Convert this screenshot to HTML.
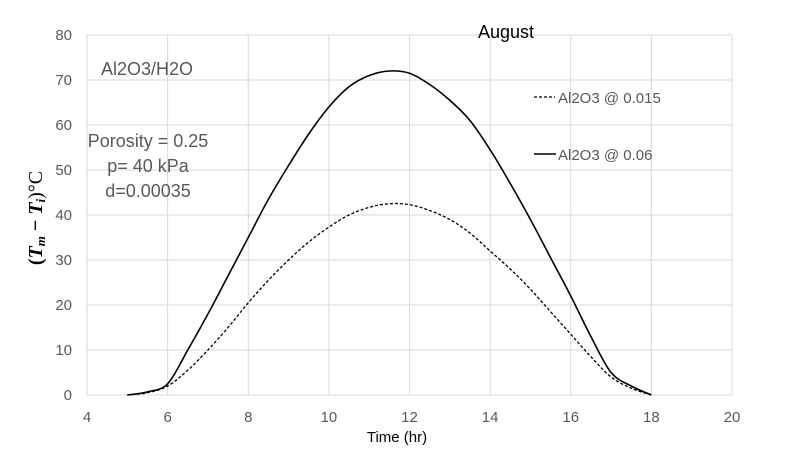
<!DOCTYPE html>
<html><head><meta charset="utf-8"><style>
body{margin:0;background:#fff;}
svg{display:block;font-family:"Liberation Sans",sans-serif;}
</style></head><body>
<svg width="795" height="458" viewBox="0 0 795 458" id="c"></svg>
<script>
const xTicks=[4,6,8,10,12,14,16,18,20];
const yTicks=[0,10,20,30,40,50,60,70,80];
const solidX=[5,5.5,6,6.5,7,7.5,8,8.5,9,9.5,10,10.5,11,11.5,12,12.5,13,13.5,14,14.5,15,15.5,16,16.5,17,17.5,18];
const solidY=[0,0.7,2.5,10,18,26.5,35,43.5,51,58,64,68.5,71,72,71.5,69,65.5,61,54.5,47,39,30.5,22,13,5,2,0];
const dashX=[5,5.5,6,6.5,7,7.5,8,8.5,9,9.5,10,10.5,11,11.5,12,12.5,13,13.5,14,14.5,15,15.5,16,16.5,17,17.5,18];
const dashY=[0,0.5,2,5.5,10,15,20.5,25.5,30,34,37.3,40,41.7,42.5,42.3,41,39,36,32,28,23.5,18.5,13.5,8.5,4,1.5,0];
const L=87,R=732,T=35,B=395;
const sx=v=>L+(v-4)/16*(R-L), sy=v=>B-v/80*(B-T);
const svg=document.getElementById('c');const NS='http://www.w3.org/2000/svg';
function mk(t,a,p){const e=document.createElementNS(NS,t);for(const k in a)e.setAttribute(k,a[k]);(p||svg).appendChild(e);return e;}
xTicks.forEach(v=>{const l=mk('line',{x1:sx(v),x2:sx(v),y1:T,y2:B,stroke:'#d9d9d9'});


const t=mk('text',{x:sx(v),y:B+27,'text-anchor':'middle','font-size':'15',fill:'#595959'});t.textContent=v;

});
yTicks.forEach(v=>{const l=mk('line',{x1:L,x2:R,y1:sy(v),y2:sy(v),stroke:'#d9d9d9'});


const t=mk('text',{x:L-15,y:sy(v)+5,'text-anchor':'end','font-size':'15',fill:'#595959'});t.textContent=v;

});
function path(xs,ys){const p=xs.map((x,i)=>[sx(x),sy(ys[i])]);let d='M'+p[0][0]+','+p[0][1];
for(let i=0;i<p.length-1;i++){const p0=p[Math.max(0,i-1)],p1=p[i],p2=p[i+1],p3=p[Math.min(p.length-1,i+2)];
d+=' C'+(p1[0]+(p2[0]-p0[0])/6)+','+(p1[1]+(p2[1]-p0[1])/6)+' '+(p2[0]-(p3[0]-p1[0])/6)+','+(p2[1]-(p3[1]-p1[1])/6)+' '+p2[0]+','+p2[1];}return d;}
const s=mk('path',{d:path(solidX,solidY),fill:'none',stroke:'#000','stroke-width':'1.6'});


const d=mk('path',{d:path(dashX,dashY),fill:'none',stroke:'#000','stroke-width':'1.3','stroke-dasharray':'3,2'});


</script>
<script>
(function(){const svg=document.getElementById('c');
function add(html){svg.insertAdjacentHTML('beforeend',html);}
add('<text x="506" y="38" text-anchor="middle" font-size="18" fill="#000">August</text>');
add('<text x="397" y="442" text-anchor="middle" font-size="15" fill="#000">Time (hr)</text>');
add('<text transform="translate(42,218) rotate(-90)" text-anchor="middle" font-size="20" font-family="Liberation Serif,serif" font-weight="bold" fill="#000">(<tspan font-style="italic">T<tspan font-size="13" dy="3">m</tspan></tspan><tspan dy="-3"> − </tspan><tspan font-style="italic">T<tspan font-size="13" dy="3">i</tspan></tspan><tspan dy="-3" font-weight="normal">)°C</tspan></text>');
add('<text x="101" y="75" font-size="18" fill="#595959">Al2O3/H2O</text>');
add('<text x="148" y="147" text-anchor="middle" font-size="18" fill="#595959">Porosity = 0.25</text>');
add('<text x="148" y="172" text-anchor="middle" font-size="18" fill="#595959">p= 40 kPa</text>');
add('<text x="148" y="197" text-anchor="middle" font-size="18" fill="#595959">d=0.00035</text>');
add('<g><line x1="534" x2="555" y1="97" y2="97" stroke="#000" stroke-width="1.3" stroke-dasharray="3,2"/><text x="558" y="103" font-size="15" fill="#595959">Al2O3 @ 0.015</text></g>');
add('<g><line x1="534" x2="556" y1="154" y2="154" stroke="#000" stroke-width="1.6"/><text x="558" y="160" font-size="15" fill="#595959">Al2O3 @ 0.06</text></g>');
})();
</script>
</body></html>
